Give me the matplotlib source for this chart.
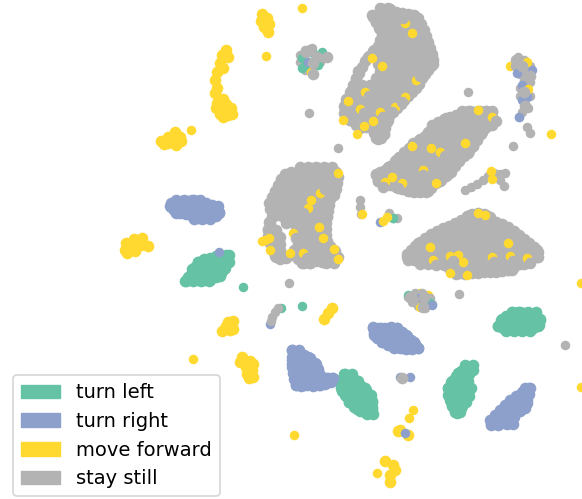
# -*- coding: utf-8 -*-
"""
t-SNE embedding of the policy states, coloured by action
"""
import matplotlib
matplotlib.use('Agg')
import matplotlib.pyplot as plt
from matplotlib.patches import Patch

###############################################################################
# data. Rows are (y, [x, x, ...]):

still_upper_rows = [
    (8, [380, 388]),
    (15, [372, 380, 388, 396, 404, 412]),
    (22, [376, 384, 392, 400, 408, 416]),
    (29, [380, 388, 396, 404, 412, 420]),
    (36, [384, 392, 400, 408, 416, 424]),
    (43, [384, 392, 400, 408, 416, 425]),
    (50, [374, 382, 390, 398, 406, 414, 422, 429]),
    (57, [368, 376, 384, 392, 400, 408, 416, 424, 432]),
    (64, [378, 386, 394, 402, 410, 418, 426, 433]),
    (71, [358, 380, 388, 396, 404, 412, 420, 426]),
    (78, [356, 376, 384, 392, 400, 408, 416, 420]),
    (85, [354, 362, 370, 378, 386, 394, 402, 410, 414]),
    (92, [350, 358, 366, 374, 382, 390, 398, 406]),
    (99, [346, 354, 362, 370, 378, 386, 394, 401]),
    (106, [344, 352, 360, 368, 376, 384, 392, 396]),
    (113, [344, 352, 360, 368, 376, 384, 389]),
    (120, [350, 358, 366, 374, 382, 388]),
    (127, [360, 368, 376, 384]),
    (134, [376, 384]),
    (139, [378]),
]
still_upper_edge = [
    (383, 9), (390, 9), (396, 12), (402, 13), (408, 14), (414, 15), (418, 18), (421, 24),
    (424, 30), (426, 36), (428, 42), (430, 48), (432, 54), (433, 60), (431, 66), (428, 70),
    (425, 74), (422, 78), (419, 84), (416, 88), (412, 92), (408, 96), (404, 100), (401, 104),
    (397, 108), (393, 112), (389, 116), (387, 122), (385, 128), (384, 134), (381, 138),
    (376, 138), (374, 133), (372, 128), (366, 127), (360, 128), (356, 125), (350, 120),
    (346, 115), (345, 109), (346, 103), (349, 97), (351, 91), (353, 85), (356, 79), (359, 73),
    (362, 67), (365, 61), (369, 56), (373, 51), (378, 46), (380, 40), (382, 34), (379, 28),
    (376, 22), (373, 17), (378, 14),
]
still_middle_rows = [
    (111, [462, 470, 478, 486, 492]),
    (118, [446, 454, 462, 470, 478, 486]),
    (125, [432, 440, 448, 456, 464, 472, 480, 492]),
    (132, [428, 436, 444, 452, 460, 468, 476, 482]),
    (139, [420, 428, 436, 444, 452, 460, 468, 476]),
    (146, [412, 420, 428, 436, 444, 452, 460, 468, 473]),
    (153, [404, 412, 420, 428, 436, 444, 452, 460, 468]),
    (160, [396, 404, 412, 420, 428, 436, 444, 452, 459]),
    (167, [388, 396, 404, 412, 420, 428, 436, 444, 453]),
    (174, [376, 384, 392, 400, 408, 416, 424, 432, 440, 448]),
    (181, [378, 388, 396, 404, 412, 420, 428, 436, 440]),
    (187, [398, 406, 414, 422, 430]),
    (191, [410, 418, 428]),
]
still_middle_edge = [
    (492, 112), (486, 111), (480, 111), (474, 112), (468, 111), (462, 112), (456, 115),
    (450, 117), (444, 119), (438, 122), (434, 127), (430, 132), (425, 136), (419, 140),
    (413, 143), (409, 148), (404, 152), (399, 157), (395, 161), (390, 166), (385, 170),
    (380, 172), (376, 175), (378, 181), (384, 183), (390, 185), (396, 187), (402, 189),
    (408, 191), (414, 192), (420, 192), (426, 192), (431, 188), (436, 183), (441, 180),
    (446, 176), (451, 172), (455, 166), (459, 161), (464, 156), (469, 151), (473, 146),
    (477, 140), (481, 134), (485, 128), (490, 125), (493, 119),
]
still_left_rows = [
    (167, [300, 308, 316, 324, 332]),
    (174, [288, 296, 304, 312, 320, 328, 336]),
    (181, [284, 292, 300, 308, 316, 324, 332]),
    (188, [280, 288, 296, 304, 312, 320, 328, 335]),
    (195, [276, 284, 292, 300, 308, 316, 324, 332]),
    (202, [273, 280, 288, 296, 304, 312, 320, 327]),
    (209, [272, 280, 288, 296, 304, 312, 320, 326]),
    (216, [274, 282, 290, 298, 306, 314, 322, 327]),
    (223, [270, 286, 294, 302, 310, 318, 323]),
    (230, [268, 276, 296, 304, 312, 320, 323]),
    (237, [272, 280, 298, 306, 314, 322]),
    (244, [272, 280, 298, 306, 314, 322]),
    (250, [272, 280, 294, 302, 310, 318, 326, 334]),
    (257, [276, 284, 298, 306, 314, 322, 330, 336]),
    (263, [302, 310, 326, 334]),
]
still_left_edge = [
    (300, 169), (306, 169), (312, 168), (318, 168), (324, 169), (330, 169), (336, 172),
    (338, 177), (337, 183), (336, 189), (334, 195), (330, 199), (329, 205), (328, 211),
    (327, 217), (326, 223), (326, 229), (326, 235), (327, 241), (330, 246), (335, 251),
    (338, 257), (334, 261), (328, 262), (322, 262), (316, 261), (310, 263), (304, 263),
    (298, 259), (292, 255), (286, 258), (280, 259), (275, 256), (272, 250), (270, 243),
    (268, 236), (268, 229), (269, 222), (272, 216), (270, 209), (269, 203), (272, 197),
    (275, 191), (278, 185), (281, 179), (285, 174), (291, 172),
]
still_lower_rows = [
    (215, [470, 478, 486]),
    (222, [462, 470, 478, 486, 494]),
    (229, [444, 452, 460, 468, 476, 484, 492, 500, 508]),
    (236, [432, 440, 448, 456, 464, 472, 480, 488, 496, 504, 512, 518]),
    (243, [418, 426, 434, 442, 450, 458, 466, 474, 482, 490, 498, 506, 514, 522, 528]),
    (250, [412, 420, 428, 436, 444, 452, 460, 468, 476, 484, 492, 500, 508, 516, 524, 532, 537]),
    (257, [407, 415, 423, 431, 439, 447, 455, 463, 471, 479, 487, 495, 503, 511, 519, 527, 535, 538]),
    (264, [420, 428, 436, 444, 452, 460, 468, 476, 484, 492, 500, 508, 516, 524]),
    (270, [452, 460, 468, 476, 484, 492, 500, 508, 512]),
    (274, [456, 465]),
]
still_lower_edge = [
    (472, 214), (478, 213), (484, 214), (490, 217), (496, 222), (502, 224), (508, 227),
    (514, 231), (519, 235), (524, 239), (529, 243), (534, 247), (538, 252), (537, 257),
    (531, 258), (525, 261), (520, 264), (514, 267), (508, 270), (502, 271), (496, 272),
    (490, 272), (484, 272), (478, 273), (472, 273), (466, 273), (460, 273), (454, 272),
    (449, 268), (444, 265), (438, 262), (432, 260), (426, 258), (420, 258), (414, 260),
    (408, 260), (407, 254), (411, 250), (415, 246), (420, 242), (425, 238), (431, 234),
    (437, 231), (443, 228), (449, 226), (455, 223), (461, 220), (467, 216),
]
still_chains = [
    (465, 190), (471, 187), (477, 184), (483, 180), (488, 176), (494, 173),
    (500, 174), (505, 173), (500, 180), (504, 186), (527, 127), (530, 133),
    (360, 200), (360, 207), (361, 214), (278, 308), (275, 312), (272, 317), (271, 321),
    (389, 213), (397, 218), (518, 57), (524, 60), (515, 66), (523, 67), (530, 66),
    (520, 74), (528, 74), (524, 80), (530, 82), (520, 88), (526, 92), (530, 96),
    (520, 96), (525, 104), (528, 108), (522, 112), (312, 48), (305, 50), (300, 55),
    (300, 62), (305, 70), (312, 72), (320, 62), (322, 58), (408, 297), (415, 293),
    (422, 293), (430, 298), (432, 304), (425, 308), (418, 306), (412, 302),
]
still_dots = [
    (468, 92), (338, 148), (513, 146), (309, 113), (289, 283), (459, 294), (565, 345),
]

left_rows = [
    (255, [218, 226, 229]),
    (262, [198, 206, 214, 222, 229]),
    (269, [192, 200, 208, 216, 224]),
    (276, [190, 198, 206, 214, 220]),
    (281, [185, 193, 201, 209]),
    (312, [512, 520, 528, 536]),
    (319, [502, 510, 518, 526, 534, 540]),
    (326, [498, 506, 514, 522, 530, 538]),
    (331, [506, 514, 522, 530]),
    (374, [344, 352]),
    (381, [342, 350, 358]),
    (388, [341, 349, 357, 365]),
    (395, [345, 353, 361, 369]),
    (402, [349, 357, 365, 372]),
    (409, [357, 365, 372]),
    (414, [367, 373]),
    (365, [473, 465]),
    (373, [458, 466]),
    (381, [452, 460, 468]),
    (388, [448, 456, 464, 471]),
    (395, [448, 456, 464]),
    (402, [451, 459, 466]),
    (408, [454, 461]),
    (413, [457]),
]
left_edge = [
    (227, 256), (222, 256), (216, 256), (210, 258), (204, 259), (198, 262), (195, 267),
    (192, 272), (188, 277), (186, 281), (192, 280), (198, 280), (204, 280), (210, 280),
    (216, 277), (221, 273), (225, 268), (228, 262),
    (512, 312), (518, 312), (524, 313), (530, 315), (536, 315), (540, 320), (539, 325),
    (533, 328), (527, 329), (521, 330), (515, 330), (509, 329), (503, 328), (498, 326),
    (501, 320), (506, 316),
    (345, 374), (352, 376), (357, 381), (361, 386), (366, 390), (371, 395), (372, 401),
    (372, 407), (372, 413), (366, 413), (360, 411), (354, 407), (349, 402), (346, 396),
    (342, 391), (341, 385), (342, 379),
    (472, 366), (466, 367), (461, 371), (456, 376), (451, 382), (448, 388), (449, 394),
    (450, 400), (452, 406), (455, 412), (460, 412), (462, 406), (465, 401), (469, 396),
    (470, 388), (466, 381), (469, 374), (473, 370),
]
left_dots = [(243, 287), (281, 308), (302, 306), (393, 218)]
left_top = [
    (302, 58), (306, 65), (322, 52), (313, 53), (302, 68), (318, 65), (393, 218),
    (408, 295), (430, 303),
]

right_rows = [
    (200, [176, 184, 192, 200]),
    (206, [170, 178, 186, 194, 202, 210, 218]),
    (213, [176, 184, 192, 200, 208, 216, 219]),
    (219, [194, 202, 210]),
    (328, [373, 381, 389, 397]),
    (335, [374, 382, 390, 398, 406]),
    (342, [382, 390, 398, 406, 414]),
    (348, [394, 402, 410, 418]),
    (350, [292, 299]),
    (357, [292, 300, 308]),
    (364, [292, 300, 308, 316]),
    (371, [294, 302, 310, 318]),
    (378, [296, 304, 312, 320, 328, 333]),
    (385, [296, 304, 312, 320]),
    (388, [530]),
    (395, [528, 521]),
    (403, [527, 519]),
    (408, [511, 519, 525]),
    (412, [504, 512]),
    (417, [498, 506, 514]),
    (424, [491, 499, 507, 513]),
]
right_edge = [
    (171, 203), (176, 201), (182, 201), (188, 201), (194, 200), (200, 201), (206, 203),
    (212, 205), (217, 208), (219, 212), (216, 216), (210, 218), (204, 218), (198, 218),
    (192, 216), (186, 214), (180, 213), (174, 210), (171, 207),
    (373, 327), (379, 328), (385, 328), (391, 327), (397, 328), (402, 332), (407, 336),
    (411, 340), (415, 344), (418, 348), (412, 349), (406, 349), (400, 348), (394, 347),
    (388, 345), (382, 342), (377, 338), (374, 333),
    (292, 350), (298, 351), (304, 355), (310, 358), (315, 363), (318, 369), (320, 375),
    (326, 378), (332, 378), (331, 382), (325, 384), (319, 385), (313, 386), (307, 385),
    (301, 386), (296, 385), (294, 379), (293, 373), (292, 367), (292, 360),
    (529, 388), (529, 394), (527, 400), (525, 406), (520, 411), (514, 416), (510, 420),
    (505, 423), (498, 425), (491, 425), (490, 420), (495, 415), (500, 410), (505, 405),
    (510, 400), (516, 396), (522, 392), (525, 388),
]
right_dots = [
    (219, 252), (270, 324), (380, 222), (400, 377), (410, 377), (519, 117),
]
right_top = [
    (532, 70), (517, 73), (522, 85), (522, 100), (527, 97), (519, 117),
    (308, 62), (420, 298), (432, 305), (405, 433),
]

forward_blobs = [
    (262, 14), (267, 18), (261, 21), (269, 24), (264, 27), (268, 32),
    (226, 50), (228, 57), (222, 55), (220, 63), (223, 68), (217, 72), (215, 80), (217, 88),
    (215, 93), (223, 99), (217, 103), (226, 104), (216, 108), (224, 110), (231, 108),
    (220, 114), (228, 115), (232, 114), (223, 117), (161, 141), (168, 137), (175, 132),
    (180, 137), (181, 141), (174, 140), (168, 143), (176, 145), (164, 144),
    (126, 243), (134, 239), (142, 238), (125, 250), (133, 247), (141, 245), (127, 253),
    (135, 251), (148, 246), (233, 321), (233, 329), (226, 326), (222, 331), (230, 330),
    (228, 322), (242, 357), (250, 361), (253, 364), (240, 362), (246, 367),
    (252, 370), (247, 374), (253, 377), (249, 378), (332, 308), (328, 313), (324, 319),
    (385, 461), (393, 465), (395, 470), (390, 475), (390, 482),
    (398, 431), (408, 435), (400, 430),
]
forward_dots = [
    (302, 8), (266, 56), (191, 130), (193, 359), (413, 410), (409, 418), (294, 435),
    (377, 473), (551, 134), (581, 387), (581, 283), (510, 66), (420, 293), (428, 295),
]
forward_top = [
    (412, 33), (372, 58), (382, 66), (364, 126), (357, 134), (373, 121), (348, 101),
    (405, 23), (416, 80), (365, 92), (360, 109), (380, 112), (395, 107), (405, 97), (343, 120),
    (478, 110), (412, 146), (431, 148), (465, 143), (436, 183), (492, 117), (440, 152),
    (402, 183), (385, 182), (392, 177), (423, 170), (491, 171), (492, 179),
    (311, 200), (319, 227), (323, 238), (334, 249), (265, 240), (262, 241), (269, 238),
    (320, 193), (308, 208), (338, 173), (293, 233), (303, 253), (338, 259), (270, 250),
    (290, 253), (430, 247), (458, 255), (463, 262), (508, 243), (478, 213), (433, 260),
    (450, 256), (492, 257), (510, 256), (527, 258), (450, 273), (467, 275), (485, 215),
    (362, 214), (387, 217), (383, 221), (527, 62), (528, 89), (311, 72), (420, 307),
]
still_top = [
    (403, 18), (420, 76), (369, 96), (364, 113), (383, 117), (392, 112), (402, 102),
    (496, 121), (445, 156), (398, 188), (383, 187), (423, 175), (325, 189), (303, 213),
    (296, 238), (307, 258), (436, 265), (453, 261), (494, 262), (513, 261), (530, 263),
    (516, 60), (522, 66), (530, 76), (524, 92), (525, 106), (310, 50), (317, 57), (313, 63),
    (313, 74), (327, 57), (306, 52), (410, 297), (413, 300), (424, 297), (423, 307),
    (402, 378),
]

labels = ['turn left', 'turn right', 'move forward', 'stay still']
colors = ['#66c2a5', '#8da0cb', '#ffd92f', '#b3b3b3']


def flatten(rows):
    return [(x, row[0]) for row in rows for x in row[1]]


###############################################################################
# do the plot:

fig = plt.figure(figsize=(5.82, 4.99), dpi=100)
ax = fig.add_axes([0, 0, 1, 1])

still_rows = still_upper_rows + still_middle_rows + still_left_rows + still_lower_rows
still_edges = still_upper_edge + still_middle_edge + still_left_edge + still_lower_edge

# marker sizes: dense clusters a bit fatter so they close up, lone points normal
big = 70
small = 47

# drawn in layers, the way the colours overlap in the blobs:
layers = [
    (flatten(left_rows) + left_edge, colors[0], big),
    (left_dots, colors[0], small),
    (flatten(right_rows) + right_edge, colors[1], big),
    (right_dots, colors[1], small),
    (forward_blobs, colors[2], big),
    (forward_dots, colors[2], small),
    (flatten(still_rows) + still_edges, colors[3], big),
    (still_chains, colors[3], small),
    (still_dots, colors[3], small),
    (left_top, colors[0], small),
    (right_top, colors[1], small),
    (forward_top, colors[2], small),
    (still_top, colors[3], big),
]
for pts, col, size in layers:
    ax.scatter([p[0] for p in pts], [p[1] for p in pts], s=size, color=col, linewidths=0)

ax.set_xlim(0, 582)
ax.set_ylim(499, 0)
ax.axis('off')

handles = [Patch(color=c, label=l) for c, l in zip(colors, labels)]
leg = ax.legend(handles=handles, fontsize=14, loc='lower left',
                bbox_to_anchor=(0.0195, 0.002), borderaxespad=0.1,
                handlelength=2.0, labelspacing=0.5, handletextpad=0.85)
leg.get_frame().set_linewidth(1.2)

plt.savefig('out.png', dpi=100)
